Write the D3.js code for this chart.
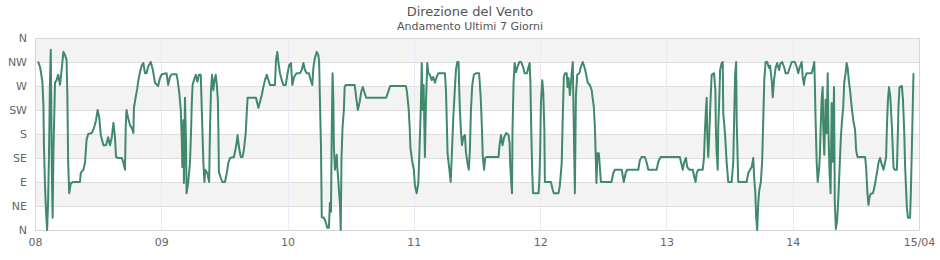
<!DOCTYPE html>
<html>
<head>
<meta charset="utf-8">
<script src="https://cdn.jsdelivr.net/npm/d3@7"></script>
<style>
  body { margin: 0; background: #fff; }
  text { font-family: "DejaVu Sans", sans-serif; }
</style>
</head>
<body>
<script>
// direzione del vento, [ora del giorno, gradi]
var day08 = [[0.6,316],[1.0,304],[1.4,278],[1.6,234],[1.7,159],[1.9,84],[2.1,34],[2.3,0],[2.5,56],[2.7,169],[2.85,281],[3.0,338],[3.2,107],[3.35,23],[3.5,144],[3.8,276],[4.1,281],[4.4,291],[4.75,272],[5.1,304],[5.4,334],[5.7,328],[6.0,319],[6.15,253],[6.3,128],[6.5,69],[6.8,88],[7.3,90],[8.55,90],[8.7,107],[9.2,113],[9.5,126],[9.8,169],[10.1,180],[10.8,182],[11.2,191],[11.6,206],[11.9,225],[12.2,212],[12.5,178],[13.0,159],[13.5,159],[13.9,174],[14.25,159],[14.6,174],[14.9,201],[15.2,174],[15.4,137],[15.8,135],[16.5,135],[16.8,126],[17.1,113],[17.25,197],[17.4,225],[17.7,210],[18.05,197],[18.4,191],[18.7,182],[18.8,229],[19.2,253],[19.45,266],[19.6,278],[19.95,296],[20.3,309],[20.6,313],[20.9,294],[21.2,294],[21.5,306],[22.0,315],[22.4,300],[22.8,276],[23.4,270],[23.75,285]];
var day09 = [[0.1,292],[1.0,294],[1.3,272],[1.65,287],[2.0,292],[2.9,292],[3.1,281],[3.4,259],[3.7,225],[3.9,169],[4.0,118],[4.2,206],[4.3,88],[4.5,248],[4.7,163],[4.8,69],[5.1,88],[5.45,126],[5.65,182],[5.8,238],[5.95,272],[6.2,281],[6.55,291],[6.85,278],[7.15,291],[7.5,291],[7.6,259],[7.8,191],[8.0,126],[8.2,90],[8.35,113],[8.75,107],[9.1,90],[9.25,188],[9.45,262],[9.65,291],[9.9,262],[10.1,281],[10.35,291],[10.55,272],[10.75,244],[10.85,188],[10.95,109],[11.3,98],[11.6,90],[12.1,90],[12.45,107],[12.75,126],[13.05,135],[13.8,137],[14.2,156],[14.5,178],[14.75,156],[15.1,137],[15.45,137],[15.7,150],[16.05,182],[16.25,221],[16.4,248],[17.2,248],[18.0,248],[18.45,229],[18.75,240],[19.1,253],[19.4,268],[19.7,281],[20.05,291],[20.35,281],[20.65,272],[21.6,272],[21.8,319],[22.05,334],[22.25,315],[22.55,294],[22.9,281],[23.2,272],[23.65,272]];
var day10 = [[0.0,294],[0.3,309],[0.65,313],[0.9,272],[1.25,287],[1.7,294],[2.35,294],[2.7,300],[3.0,313],[3.3,300],[3.65,294],[4.05,294],[4.4,281],[4.7,272],[4.9,304],[5.2,323],[5.55,334],[5.85,328],[6.0,315],[6.15,244],[6.35,156],[6.5,24],[6.9,23],[7.25,15],[7.55,4],[7.85,4],[8.05,51],[8.25,34],[8.4,188],[8.55,294],[8.7,244],[8.8,156],[9.0,113],[9.35,141],[9.45,118],[9.6,99],[9.8,69],[9.95,51],[10.1,0],[10.25,135],[10.45,193],[10.7,225],[10.85,268],[11.05,272],[12.75,272],[13.05,248],[13.35,225],[13.7,240],[14.0,259],[14.3,268],[14.65,257],[14.95,248],[18.75,248],[19.05,257],[19.5,270],[22.45,270],[22.65,262],[23.0,229],[23.2,193],[23.35,154],[23.7,128]];
var day11 = [[0.0,113],[0.2,84],[0.55,69],[0.85,88],[1.05,144],[1.3,221],[1.5,313],[1.65,225],[1.85,272],[2.1,137],[2.3,238],[2.55,313],[2.75,294],[3.05,291],[3.4,281],[3.7,287],[4.0,276],[4.35,287],[4.65,294],[5.9,294],[6.1,262],[6.25,206],[6.4,144],[6.75,113],[7.0,90],[7.2,137],[7.5,212],[7.8,266],[8.0,300],[8.25,315],[8.5,315],[8.6,272],[8.75,225],[8.95,184],[9.15,159],[9.4,174],[9.7,178],[9.9,146],[10.15,128],[10.45,113],[10.65,150],[10.85,225],[11.1,272],[11.4,291],[11.8,294],[12.4,294],[12.7,249],[12.9,201],[13.1,137],[13.35,113],[13.55,135],[13.85,137],[16.1,137],[16.25,156],[16.55,178],[16.85,159],[17.15,174],[17.55,182],[18.0,178],[18.2,163],[18.3,126],[18.5,90],[18.65,69],[18.75,188],[18.95,276],[19.15,313],[19.4,296],[19.7,306],[20.05,315],[20.4,315],[20.75,306],[21.05,294],[21.5,294],[21.8,306],[22.0,313],[22.15,276],[22.3,193],[22.5,107],[22.65,69],[23.7,69],[23.85,94]];
var day12 = [[0.0,144],[0.15,238],[0.4,281],[0.6,257],[0.8,188],[0.9,90],[2.05,90],[2.4,75],[2.6,69],[3.5,69],[3.75,84],[4.1,126],[4.25,193],[4.5,287],[4.75,294],[5.05,294],[5.2,268],[5.4,285],[5.65,253],[6.0,294],[6.2,315],[6.4,188],[6.6,69],[6.8,253],[7.05,291],[7.45,294],[7.75,306],[8.1,315],[8.4,306],[8.7,294],[9.05,276],[9.45,272],[9.8,262],[9.95,249],[10.2,231],[10.4,193],[10.6,126],[10.7,88],[10.9,144],[11.15,144],[11.35,118],[11.55,90],[13.55,90],[13.9,107],[14.2,113],[15.5,113],[15.9,90],[16.25,107],[16.55,113],[18.65,113],[18.95,131],[19.3,137],[19.9,137],[20.25,126],[20.55,113],[22.15,113],[22.45,128],[22.9,137],[23.9,137]];
var day13 = [[0.0,137],[2.55,137],[2.9,122],[3.1,113],[3.4,128],[3.7,135],[3.95,118],[4.35,113],[5.0,113],[5.3,99],[5.55,90],[5.75,107],[6.05,113],[6.9,113],[7.15,137],[7.3,182],[7.5,225],[7.65,248],[7.75,182],[7.95,137],[8.15,182],[8.4,248],[8.6,291],[9.05,294],[9.3,262],[9.4,188],[9.55,144],[9.75,113],[9.85,193],[10.05,248],[10.2,300],[10.5,313],[10.7,315],[10.8,219],[11.15,178],[11.45,126],[11.75,90],[12.4,90],[12.7,128],[13.05,291],[13.25,315],[13.35,206],[13.55,128],[13.65,90],[15.25,90],[15.55,107],[15.9,113],[16.2,118],[16.5,135],[16.7,94],[16.9,69],[17.05,24],[17.25,0],[17.45,51],[17.65,75],[17.95,90],[18.2,131],[18.4,206],[18.6,281],[18.85,315],[19.15,315],[19.5,304],[19.7,308],[20.0,281],[20.2,249],[20.45,281],[20.75,304],[21.05,313],[21.4,300],[21.7,313],[22.0,315],[22.35,306],[22.65,294],[23.1,294],[23.5,306],[23.8,315]];
var day14 = [[0.0,315],[0.4,315],[0.75,306],[1.05,294],[1.35,306],[1.7,315],[1.9,287],[2.15,272],[2.3,285],[2.65,294],[3.6,294],[3.9,306],[4.1,315],[4.2,276],[4.35,206],[4.55,128],[4.75,90],[5.0,113],[5.15,137],[5.3,188],[5.5,244],[5.7,268],[5.8,193],[6.0,141],[6.25,244],[6.45,182],[6.65,294],[6.8,182],[7.0,107],[7.2,69],[7.4,238],[7.6,128],[7.85,268],[8.0,51],[8.2,2],[8.45,19],[8.65,56],[8.95,126],[9.15,173],[9.35,203],[9.6,231],[9.8,278],[10.05,294],[10.25,313],[10.45,304],[10.65,281],[10.9,262],[11.2,231],[11.55,203],[11.85,188],[12.05,150],[12.3,137],[13.75,137],[13.95,118],[14.2,69],[14.4,47],[14.6,62],[14.85,68],[15.25,69],[15.55,81],[16.0,107],[16.3,126],[16.6,135],[16.95,122],[17.25,113],[17.75,137],[17.9,193],[18.1,244],[18.3,268],[18.55,249],[18.85,193],[19.15,118],[19.35,113],[19.8,113],[20.0,188],[20.1,231],[20.3,268],[20.75,270],[20.95,244],[21.2,182],[21.35,122],[21.55,75],[21.7,41],[21.9,23],[22.3,23],[22.45,69],[22.65,156],[22.85,248],[22.95,294]];

var days = [day08, day09, day10, day11, day12, day13, day14];
var dayLabels = ["08", "09", "10", "11", "12", "13", "14", "15/04"];
var dirLabels = ["N", "NE", "E", "SE", "S", "SW", "W", "NW", "N"];

var width = 940, height = 260;
var plotLeft = 35, plotRight = 919, plotTop = 38, plotBottom = 230;

var data = [];
days.forEach(function(d, i) {
  d.forEach(function(p) {
    data.push({h: i * 24 + p[0], v: p[1]});
  });
});

var svg = d3.select("body").append("svg")
    .attr("width", width)
    .attr("height", height);

var x = d3.scaleLinear().domain([0, 168]).range([plotLeft, plotRight]);
var y = d3.scaleLinear().domain([0, 360]).range([plotBottom, plotTop]);

var dirTicks = dirLabels.map(function(d, i) { return i * 45; });
var dayTicks = dayLabels.map(function(d, i) { return i * 24; });

// fasce alternate
svg.append("g").selectAll("rect")
  .data(dirTicks.slice(0, 8))
  .join("rect")
  .attr("x", plotLeft)
  .attr("width", plotRight - plotLeft)
  .attr("y", function(d) { return y(d + 45); })
  .attr("height", function(d) { return y(d) - y(d + 45); })
  .attr("fill", function(d, i) { return i % 2 == 0 ? "#ffffff" : "#f3f3f3"; });

// griglia orizzontale
svg.append("g").selectAll("line")
  .data(dirTicks)
  .join("line")
  .attr("x1", plotLeft).attr("x2", plotRight)
  .attr("y1", function(d) { return Math.round(y(d)) + 0.5; })
  .attr("y2", function(d) { return Math.round(y(d)) + 0.5; })
  .attr("stroke", "#dedede");

// griglia verticale
svg.append("g").selectAll("line")
  .data(dayTicks.slice(1, 7))
  .join("line")
  .attr("x1", function(d) { return Math.round(x(d)) + 0.5; })
  .attr("x2", function(d) { return Math.round(x(d)) + 0.5; })
  .attr("y1", plotTop).attr("y2", plotBottom)
  .attr("stroke", "#e8e8f4");

svg.append("rect")
  .attr("x", plotLeft + 0.5).attr("y", plotTop + 0.5)
  .attr("width", plotRight - plotLeft).attr("height", plotBottom - plotTop)
  .attr("fill", "none")
  .attr("stroke", "#d6d6d6");

var line = d3.line()
  .x(function(d) { return x(d.h); })
  .y(function(d) { return y(d.v); });

svg.append("path")
  .datum(data)
  .attr("d", line)
  .attr("fill", "none")
  .attr("stroke", "#41896d")
  .attr("stroke-width", 2)
  .attr("stroke-linejoin", "round");

var xAxis = d3.axisBottom(x)
  .tickValues(dayTicks)
  .tickSize(0)
  .tickPadding(8)
  .tickFormat(function(d, i) { return dayLabels[i]; });

var yAxis = d3.axisLeft(y)
  .tickValues(dirTicks)
  .tickSize(0)
  .tickPadding(8)
  .tickFormat(function(d, i) { return dirLabels[i]; });

var gx = svg.append("g")
  .attr("transform", "translate(0," + plotBottom + ")")
  .call(xAxis);
var gy = svg.append("g")
  .attr("transform", "translate(" + plotLeft + ",0)")
  .call(yAxis);

[gx, gy].forEach(function(g) {
  g.select(".domain").remove();
  g.selectAll("text")
    .attr("fill", "#666")
    .style("font-size", "11px")
    .style("font-family", "DejaVu Sans, sans-serif");
});

svg.append("text")
  .attr("x", width / 2).attr("y", 16)
  .attr("text-anchor", "middle")
  .attr("fill", "#555")
  .style("font-size", "13px")
  .text("Direzione del Vento");

svg.append("text")
  .attr("x", width / 2).attr("y", 30)
  .attr("text-anchor", "middle")
  .attr("fill", "#555")
  .style("font-size", "11px")
  .text("Andamento Ultimi 7 Giorni");
</script>
</body>
</html>
